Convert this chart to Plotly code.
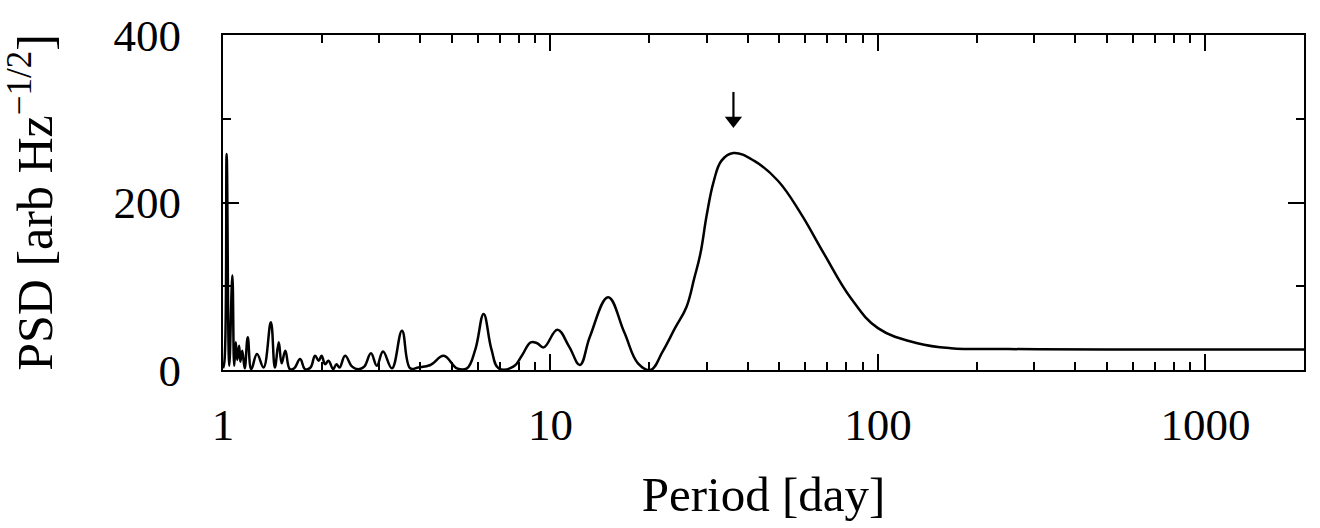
import numpy as np
import plotly.graph_objects as go

# Period [day] and PSD values
period = [1.000, 1.010, 1.026, 1.045, 1.068, 1.082, 1.094, 1.105, 1.12, 1.13, 1.145,
          1.165, 1.19, 1.22, 1.27, 1.33, 1.40, 1.44, 1.48, 1.51, 1.55, 1.60, 1.65,
          1.72, 1.78, 1.85, 1.91, 1.96, 2.00, 2.05, 2.10, 2.17, 2.22, 2.27, 2.36,
          2.48, 2.59, 2.70, 2.83, 2.95, 3.08, 3.28, 3.52, 3.73, 3.95, 4.30, 4.72,
          5.18, 5.56, 5.90, 6.25, 6.60, 6.95, 7.70, 8.20, 8.70, 9.10, 9.54, 10.5,
          11.4, 12.3, 13.2, 15.0, 16.8, 18.5, 20.2, 22.0, 24.0, 26.0, 27.5, 28.7,
          30.0, 31.5, 33.3, 36.2, 41.8, 49.5, 58.1, 68.4, 82.6, 100, 132, 167,
          250, 500, 1000, 2000]
psd = [2, 10, 258, 5, 113, 5, 33, 12, 29, 10, 23,
       2, 39, 1, 19, 3, 57, 3, 33, 8, 23, 1, 2,
       13, 1, 3, 17, 11, 17, 7, 11, 1, 7, 3, 17,
       4, 1, 4, 20, 5, 22, 2, 47, 2, 3, 6, 17,
       2, 2, 25, 67, 25, 2, 4, 18, 33, 32, 27, 48,
       28, 6, 40, 87, 45, 8, 0, 22, 50, 75, 110, 139,
       185, 225, 250, 259, 250, 226, 187, 139, 86, 50, 32, 26,
       25, 24.5, 24.5, 24.5]

# arrow marking the main peak: tail and head levels in PSD units
arrow_tail = 332
arrow_head = 290

x_major = [1, 10, 100, 1000]
x_minor = [m * d for d in (1, 10, 100, 1000) for m in range(2, 10) if m * d <= 2000]
y_major = [0, 200, 400]
y_minor = [100, 300]

FONT = "Liberation Serif"

fig = go.Figure()
fig.add_trace(go.Scatter(x=period, y=psd, mode="lines",
                         line=dict(color="black", width=2.5, shape="spline", smoothing=1.15),
                         showlegend=False, hoverinfo="skip"))

# arrow at the main peak (period > 5 days)
arr_p = np.array(period)
arr_v = np.array(psd)
mask = arr_p > 5
pk = float(arr_p[mask][np.argmax(arr_v[mask])])
fig.add_trace(go.Scatter(x=[pk, pk], y=[arrow_tail, arrow_head + 10], mode="lines",
                         line=dict(color="black", width=2.2),
                         showlegend=False, hoverinfo="skip"))
fig.add_trace(go.Scatter(x=[pk], y=[arrow_head + 8], mode="markers",
                         marker=dict(symbol="triangle-down", size=15, color="black",
                                     line=dict(width=0)),
                         showlegend=False, hoverinfo="skip"))

fig.update_layout(
    width=1320, height=528,
    margin=dict(l=223, r=16, t=35, b=158),
    plot_bgcolor="white", paper_bgcolor="white",
    font=dict(family=FONT, color="black", size=44),
)
fig.update_xaxes(
    type="log", range=[0, np.log10(2000)],
    tickmode="array", tickvals=x_major, ticktext=[str(v) for v in x_major],
    ticks="inside", ticklen=16, tickwidth=2, tickcolor="black",
    minor=dict(tickmode="array", tickvals=x_minor, ticks="inside", ticklen=8,
               tickwidth=2, tickcolor="black", showgrid=False),
    showline=True, linecolor="black", linewidth=2, mirror="ticks",
    showgrid=False, zeroline=False,
    tickfont=dict(size=45, family=FONT), ticklabelstandoff=14,
    title=dict(text="Period [day]", font=dict(size=49, family=FONT), standoff=28),
)
fig.update_yaxes(
    range=[0, 400],
    tickmode="array", tickvals=y_major, ticktext=[str(v) for v in y_major],
    ticks="inside", ticklen=16, tickwidth=2, tickcolor="black",
    minor=dict(tickmode="array", tickvals=y_minor, ticks="inside", ticklen=8,
               tickwidth=2, tickcolor="black", showgrid=False),
    showline=True, linecolor="black", linewidth=2, mirror="ticks",
    showgrid=False, zeroline=False,
    tickfont=dict(size=45, family=FONT), ticklabelstandoff=31,
    title=dict(text="PSD [arb Hz<sup>−1/2</sup>]", font=dict(size=50, family=FONT), standoff=45),
)

fig.write_html("out.html")
